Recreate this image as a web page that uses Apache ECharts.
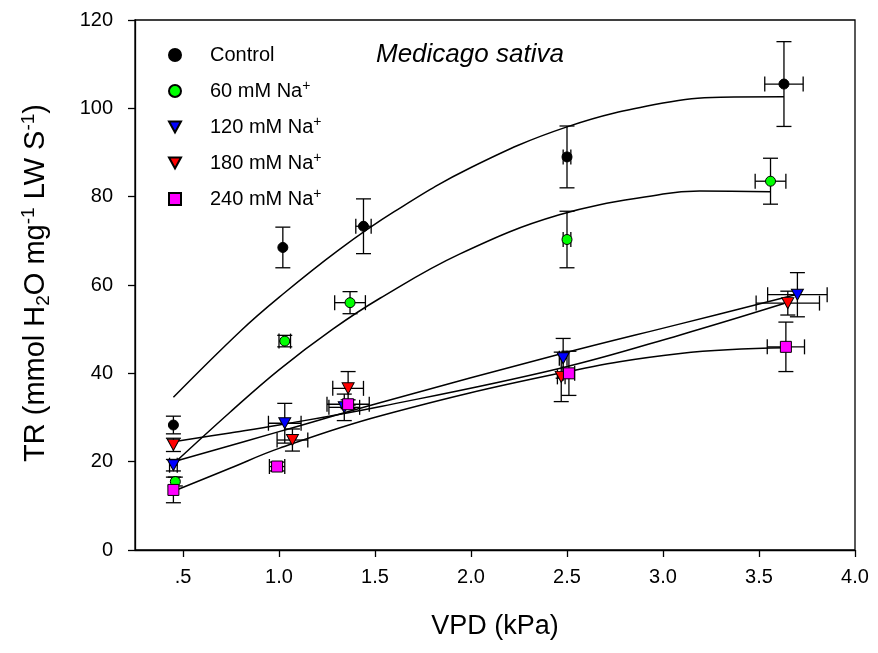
<!DOCTYPE html>
<html>
<head>
<meta charset="utf-8">
<script src="https://cdn.jsdelivr.net/npm/echarts@6/dist/echarts.min.js"></script>
<style>html,body{margin:0;padding:0;background:#fff}#c{width:878px;height:653px}</style>
</head>
<body>
<div id="c"></div>
<script>
// ---- data ----
const seriesNames = ['Control', '60 mM Na+', '120 mM Na+', '180 mM Na+', '240 mM Na+'];
const xTicks = [0.5, 1.0, 1.5, 2.0, 2.5, 3.0, 3.5, 4.0];
const yTicks = [0, 20, 40, 60, 80, 100, 120];

const ctrlX  = [0.45, 1.02, 1.44, 2.50, 3.63];
const ctrlY  = [28.3, 68.5, 73.3, 89.0, 105.5];
const ctrlXE = [0.01, 0.01, 0.04, 0.02, 0.10];
const ctrlYE = [2.0, 4.6, 6.2, 7.0, 9.6];

const g60X  = [0.46, 1.03, 1.37, 2.50, 3.56];
const g60Y  = [15.5, 47.3, 56.0, 70.3, 83.5];
const g60XE = [0.01, 0.03, 0.08, 0.02, 0.08];
const g60YE = [1.0, 1.3, 2.5, 6.4, 5.2];

const b120X  = [0.45, 1.03, 1.34, 2.48, 3.70];
const b120Y  = [19.2, 28.7, 32.3, 43.4, 57.8];
const b120XE = [0.02, 0.085, 0.08, 0.02, 0.155];
const b120YE = [1.3, 4.5, 3.0, 4.5, 5.0];

const r180X  = [0.45, 1.07, 1.36, 2.47, 3.65];
const r180Y  = [23.8, 24.9, 36.6, 39.2, 55.9];
const r180XE = [0.01, 0.08, 0.08, 0.02, 0.165];
const r180YE = [1.5, 2.5, 3.8, 5.6, 2.7];

const m240X  = [0.45, 0.99, 1.36, 2.51, 3.64];
const m240Y  = [13.6, 18.9, 33.0, 40.0, 46.0];
const m240XE = [0.01, 0.04, 0.11, 0.03, 0.097];
const m240YE = [2.9, 1.0, 1.0, 5.0, 5.6];

// fitted curves
const ctrlFitX = [0.45, 0.8, 1.0, 1.31, 1.6, 2.0, 2.5, 3.0, 3.3, 3.63];
const ctrlFitY = [34.6, 49.6, 57.2, 67.9, 76.6, 86.6, 95.8, 101.2, 102.5, 102.6];
const g60FitX  = [0.45, 0.745, 1.0, 1.28, 1.526, 1.94, 2.46, 3.0, 3.19, 3.56];
const g60FitY  = [19.5, 31.2, 40.8, 50.0, 57.0, 67.0, 75.9, 80.6, 81.3, 81.1];
const b120FitX = [0.45, 1.0, 1.53, 2.46, 3.09, 3.69];
const b120FitY = [20.0, 26.8, 33.4, 44.3, 51.2, 57.8];
const r180FitX = [0.45, 0.745, 1.0, 1.53, 2.46, 3.09, 3.63];
const r180FitY = [24.5, 26.5, 28.3, 32.5, 41.1, 48.7, 55.8];
const m240FitX = [0.45, 0.745, 1.0, 1.53, 2.46, 3.09, 3.64];
const m240FitY = [13.3, 18.5, 23.0, 30.4, 40.0, 44.5, 45.8];

// ---- build chart ----
const FONT = 'Liberation Sans, Arial, sans-serif';
const groups = [
  {name: seriesNames[0], x: ctrlX, y: ctrlY, xe: ctrlXE, ye: ctrlYE, fx: ctrlFitX, fy: ctrlFitY, color: '#000000', symbol: 'circle', size: 10},
  {name: seriesNames[1], x: g60X, y: g60Y, xe: g60XE, ye: g60YE, fx: g60FitX, fy: g60FitY, color: '#00ff00', symbol: 'circle', size: 10},
  {name: seriesNames[2], x: b120X, y: b120Y, xe: b120XE, ye: b120YE, fx: b120FitX, fy: b120FitY, color: '#0000ff', symbol: 'path://M0,0 L10,0 L5,9 Z', size: [12, 11]},
  {name: seriesNames[3], x: r180X, y: r180Y, xe: r180XE, ye: r180YE, fx: r180FitX, fy: r180FitY, color: '#ff0000', symbol: 'path://M0,0 L10,0 L5,9 Z', size: [12, 11]},
  {name: seriesNames[4], x: m240X, y: m240Y, xe: m240XE, ye: m240YE, fx: m240FitX, fy: m240FitY, color: '#ff00ff', symbol: 'rect', size: 11}
];

function renderErr(params, api) {
  const x = api.value(0), y = api.value(1), xe = api.value(2), ye = api.value(3);
  const top = api.coord([x, y + ye]);
  const bot = api.coord([x, y - ye]);
  const lft = api.coord([x - xe, y]);
  const rgt = api.coord([x + xe, y]);
  const cap = 7.5;
  const st = {stroke: '#000', lineWidth: 1.3};
  const ch = [];
  ch.push({type: 'line', shape: {x1: top[0], y1: top[1], x2: bot[0], y2: bot[1]}, style: st});
  ch.push({type: 'line', shape: {x1: top[0] - cap, y1: top[1], x2: top[0] + cap, y2: top[1]}, style: st});
  ch.push({type: 'line', shape: {x1: bot[0] - cap, y1: bot[1], x2: bot[0] + cap, y2: bot[1]}, style: st});
  if (rgt[0] - lft[0] > 5) {
    ch.push({type: 'line', shape: {x1: lft[0], y1: lft[1], x2: rgt[0], y2: rgt[1]}, style: st});
    ch.push({type: 'line', shape: {x1: lft[0], y1: lft[1] - cap, x2: lft[0], y2: lft[1] + cap}, style: st});
    ch.push({type: 'line', shape: {x1: rgt[0], y1: rgt[1] - cap, x2: rgt[0], y2: rgt[1] + cap}, style: st});
  }
  return {type: 'group', children: ch};
}

const series = [];
groups.forEach(function (g) {
  series.push({
    type: 'custom', name: g.name + ' err', renderItem: renderErr, z: 1, silent: true,
    encode: {x: 0, y: 1},
    data: g.x.map(function (v, i) { return [v, g.y[i], g.xe[i], g.ye[i]]; })
  });
});
groups.forEach(function (g) {
  series.push({
    type: 'line', name: g.name + ' fit', smooth: 0.4, showSymbol: false, symbol: 'none', z: 2, silent: true,
    lineStyle: {color: '#000', width: 1.5},
    data: g.fx.map(function (v, i) { return [v, g.fy[i]]; })
  });
});
groups.forEach(function (g) {
  series.push({
    type: 'scatter', name: g.name, symbol: g.symbol, symbolSize: g.size, z: 3,
    itemStyle: {color: g.color, borderColor: '#000', borderWidth: 1, opacity: 1},
    data: g.x.map(function (v, i) { return [v, g.y[i]]; })
  });
});

const chart = echarts.init(document.getElementById('c'), null, {renderer: 'canvas'});
chart.setOption({
  animation: false,
  backgroundColor: '#fff',
  title: {
    text: 'Medicago sativa', left: 371, top: 37,
    textStyle: {fontFamily: FONT, fontStyle: 'italic', fontWeight: 'normal', fontSize: 26, color: '#000'}
  },
  legend: {
    orient: 'vertical', left: 163, top: 38, itemWidth: 12, itemHeight: 12, itemGap: 12,
    data: seriesNames,
    formatter: function (n) {
      return n.slice(-1) === '+' ? '{t|' + n.slice(0, -1) + '}{s|+}' : '{t|' + n + '}';
    },
    textStyle: {
      padding: [0, 0, 0, 24], color: '#000', fontFamily: FONT, fontSize: 20, lineHeight: 24,
      rich: {
        t: {fontFamily: FONT, fontSize: 20, lineHeight: 24, color: '#000'},
        s: {fontFamily: FONT, fontSize: 14, lineHeight: 12, verticalAlign: 'top', color: '#000'}
      }
    }
  },
  grid: {left: 135, right: 23, top: 20, bottom: 103, show: true, borderColor: '#000', borderWidth: 1.3, backgroundColor: 'transparent'},
  xAxis: {
    type: 'value', min: 0.25, max: 4.0,
    name: 'VPD (kPa)', nameLocation: 'middle', nameGap: 63,
    nameTextStyle: {fontFamily: FONT, fontSize: 27, color: '#000'},
    axisLine: {lineStyle: {color: '#000', width: 1.3}},
    axisTick: {show: true, length: 7, customValues: xTicks, lineStyle: {color: '#000', width: 1.3}},
    axisLabel: {
      customValues: xTicks, margin: 17, fontFamily: FONT, fontSize: 20, color: '#000',
      formatter: function (v) { return v === 0.5 ? '.5' : v.toFixed(1); }
    },
    splitLine: {show: false}
  },
  yAxis: {
    type: 'value', min: 0, max: 120, interval: 20,
    axisLine: {show: true, lineStyle: {color: '#000', width: 1.3}},
    axisTick: {show: true, length: 7, lineStyle: {color: '#000', width: 1.3}},
    axisLabel: {margin: 22, fontFamily: FONT, fontSize: 20, color: '#000',
      customValues: yTicks},
    splitLine: {show: false}
  },
  graphic: [{
    type: 'text', x: 36, y: 283, rotation: Math.PI / 2, z: 10,
    style: {
      text: '{t|TR (mmol H}{sub|2}{t|O mg}{sup|-1}{t| LW S}{sup|-1}{t|)}',
      align: 'center', verticalAlign: 'middle', fill: '#000',
      fontFamily: FONT, fontSize: 29,
      rich: {
        t: {fontFamily: FONT, fontSize: 29, lineHeight: 34, fill: '#000'},
        sub: {fontFamily: FONT, fontSize: 19, lineHeight: 14, verticalAlign: 'bottom', fill: '#000'},
        sup: {fontFamily: FONT, fontSize: 19, lineHeight: 14, verticalAlign: 'top', fill: '#000'}
      }
    }
  }],
  series: series
});
</script>
</body>
</html>
